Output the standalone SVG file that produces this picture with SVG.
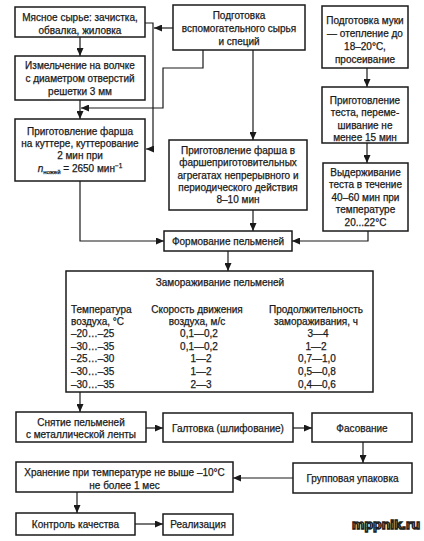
<svg xmlns="http://www.w3.org/2000/svg" width="424" height="541" viewBox="0 0 424 541">
<style>
.b{fill:#fff;stroke:#1a1a1a;stroke-width:1.5}
.t{font-family:"Liberation Sans",Arial,sans-serif;font-size:10px;fill:#1a1a1a;stroke:#1a1a1a;stroke-width:0.25;text-anchor:middle}
.l{text-anchor:start}
.c{fill:none;stroke:#1a1a1a;stroke-width:1.2}
.wm{font-family:"Liberation Sans",Arial,sans-serif;font-size:13px;font-weight:bold;fill:#fff;stroke:#222;stroke-width:1.4}
</style>
<defs>
<marker id="a" markerUnits="userSpaceOnUse" markerWidth="8" markerHeight="7" refX="8" refY="3.5" orient="auto">
<path d="M0,0 L8,3.5 L0,7 z" fill="#1a1a1a"/>
</marker>
</defs>
<rect width="424" height="541" fill="#fff"/>
<g id="connectors">
<path class="c" d="M80,37 V56" marker-end="url(#a)"/>
<path class="c" d="M80,100 V119" marker-end="url(#a)"/>
<path class="c" d="M145,23 H153 V149 H146" marker-end="url(#a)"/>
<path class="c" d="M173,28 H154" marker-end="url(#a)"/>
<path class="c" d="M203,50 V68 H163 V108 H81" marker-end="url(#a)"/>
<path class="c" d="M253,50 V140" marker-end="url(#a)"/>
<path class="c" d="M367,68 V87" marker-end="url(#a)"/>
<path class="c" d="M367,143 V163" marker-end="url(#a)"/>
<path class="c" d="M368,231 V241 H292" marker-end="url(#a)"/>
<path class="c" d="M80,181 V241 H164" marker-end="url(#a)"/>
<path class="c" d="M253,210 V231" marker-end="url(#a)"/>
<path class="c" d="M228,251 V271" marker-end="url(#a)"/>
<path class="c" d="M80,392 V412" marker-end="url(#a)"/>
<path class="c" d="M146,428 H163" marker-end="url(#a)"/>
<path class="c" d="M293,428 H312" marker-end="url(#a)"/>
<path class="c" d="M363,442 V463" marker-end="url(#a)"/>
<path class="c" d="M293,478 H233" marker-end="url(#a)"/>
<path class="c" d="M77,492 V513" marker-end="url(#a)"/>
<path class="c" d="M135,524 H163" marker-end="url(#a)"/>
</g>
<g id="n1"><rect class="b" x="15" y="7" width="130" height="30"/>
<text class="t" x="80" y="20.5">Мясное сырье: зачистка,</text>
<text class="t" x="80" y="33.5">обвалка, жиловка</text></g>
<g id="n2"><rect class="b" x="173" y="5" width="132" height="45"/>
<text class="t" x="239" y="18.5">Подготовка</text>
<text class="t" x="239" y="31.5">вспомогательного сырья</text>
<text class="t" x="239" y="44.5">и специй</text></g>
<g id="n3"><rect class="b" x="322" y="6" width="86" height="62"/>
<text class="t" x="365" y="23.5">Подготовка муки</text>
<text class="t" x="365" y="36.5">— отепление до</text>
<text class="t" x="365" y="49.5">18–20°С,</text>
<text class="t" x="365" y="62.5">просеивание</text></g>
<g id="n4"><rect class="b" x="15" y="56" width="130" height="44"/>
<text class="t" x="80" y="68.5">Измельчение на волчке</text>
<text class="t" x="80" y="81.5">с диаметром отверстий</text>
<text class="t" x="80" y="94.5">решетки 3 мм</text></g>
<g id="n5"><rect class="b" x="322" y="87" width="86" height="56"/>
<text class="t" x="365" y="103.5">Приготовление</text>
<text class="t" x="365" y="116">теста, переме-</text>
<text class="t" x="365" y="128.5">шивание не</text>
<text class="t" x="365" y="141">менее 15 мин</text></g>
<g id="n6"><rect class="b" x="15" y="119" width="130" height="62"/>
<text class="t" x="80" y="134.5">Приготовление фарша</text>
<text class="t" x="80" y="146.5">на куттере, куттерование</text>
<text class="t" x="80" y="158.5">2 мин при</text>
<text class="t" x="80" y="171.5"><tspan font-style="italic">n</tspan><tspan font-size="6" dy="2">ножей</tspan><tspan dy="-2"> = 2650 мин</tspan><tspan font-size="6.5" dy="-4">−1</tspan></text></g>
<g id="n7"><rect class="b" x="169" y="140" width="138" height="70"/>
<text class="t" x="238" y="153.5">Приготовление фарша в</text>
<text class="t" x="238" y="166">фаршеприготовительных</text>
<text class="t" x="238" y="178.5">агрегатах непрерывного и</text>
<text class="t" x="238" y="190.5">периодического действия</text>
<text class="t" x="238" y="202.5">8–10 мин</text></g>
<g id="n8"><rect class="b" x="323" y="163" width="85" height="68"/>
<text class="t" x="365.5" y="175.5">Выдерживание</text>
<text class="t" x="365.5" y="188">теста в течение</text>
<text class="t" x="365.5" y="200.5">40–60 мин при</text>
<text class="t" x="365.5" y="213">температуре</text>
<text class="t" x="365.5" y="226">20...22°С</text></g>
<g id="n9"><rect class="b" x="164" y="231" width="128" height="20"/>
<text class="t" x="228" y="244.5">Формование пельменей</text></g>
<g id="n10"><rect class="b" x="66" y="271" width="307" height="121"/>
<text class="t" x="220" y="285.5">Замораживание пельменей</text>
<text class="t l" x="71" y="312.5">Температура</text>
<text class="t l" x="71" y="324.5">воздуха, °С</text>
<text class="t" x="197" y="312.5">Скорость движения</text>
<text class="t" x="197" y="324.5">воздуха, м/с</text>
<text class="t" x="316" y="312.5">Продолжительность</text>
<text class="t" x="316" y="324.5">замораживания, ч</text>
<text class="t l" x="71" y="336.5">–20…–25</text>
<text class="t l" x="71" y="349.5">–30…–35</text>
<text class="t l" x="71" y="361.5">–25…–30</text>
<text class="t l" x="71" y="374.5">–30…–35</text>
<text class="t l" x="71" y="387.5">–30…–35</text>
<text class="t" x="199" y="336.5">0,1—0,2</text>
<text class="t" x="199" y="349.5">0,1—0,2</text>
<text class="t" x="201" y="361.5">1—2</text>
<text class="t" x="201" y="374.5">1—2</text>
<text class="t" x="201" y="387.5">2—3</text>
<text class="t" x="318" y="336.5">3—4</text>
<text class="t" x="316" y="349.5">1—2</text>
<text class="t" x="317" y="361.5">0,7—1,0</text>
<text class="t" x="317" y="374.5">0,5—0,8</text>
<text class="t" x="317" y="387.5">0,4—0,6</text></g>
<g id="n11"><rect class="b" x="16" y="412" width="130" height="30"/>
<text class="t" x="81" y="425.5">Снятие пельменей</text>
<text class="t" x="81" y="437.5">с металлической ленты</text></g>
<g id="n12"><rect class="b" x="163" y="413" width="130" height="29"/>
<text class="t" x="228" y="431.5">Галтовка (шлифование)</text></g>
<g id="n13"><rect class="b" x="312" y="413" width="100" height="29"/>
<text class="t" x="362" y="431.5">Фасование</text></g>
<g id="n14"><rect class="b" x="293" y="463" width="119" height="30"/>
<text class="t" x="352.5" y="481.5">Групповая упаковка</text></g>
<g id="n15"><rect class="b" x="16" y="462" width="217" height="30"/>
<text class="t" x="124.5" y="475.5">Хранение при температуре не выше –10°С</text>
<text class="t" x="124.5" y="488.5">не более 1 мес</text></g>
<g id="n16"><rect class="b" x="16" y="513" width="119" height="22"/>
<text class="t" x="75.5" y="527.5">Контроль качества</text></g>
<g id="n17"><rect class="b" x="163" y="514" width="70" height="21"/>
<text class="t" x="198" y="527.5">Реализация</text></g>
<text class="wm" x="352" y="529" textLength="68" lengthAdjust="spacingAndGlyphs">mppnik.ru</text>
</svg>
